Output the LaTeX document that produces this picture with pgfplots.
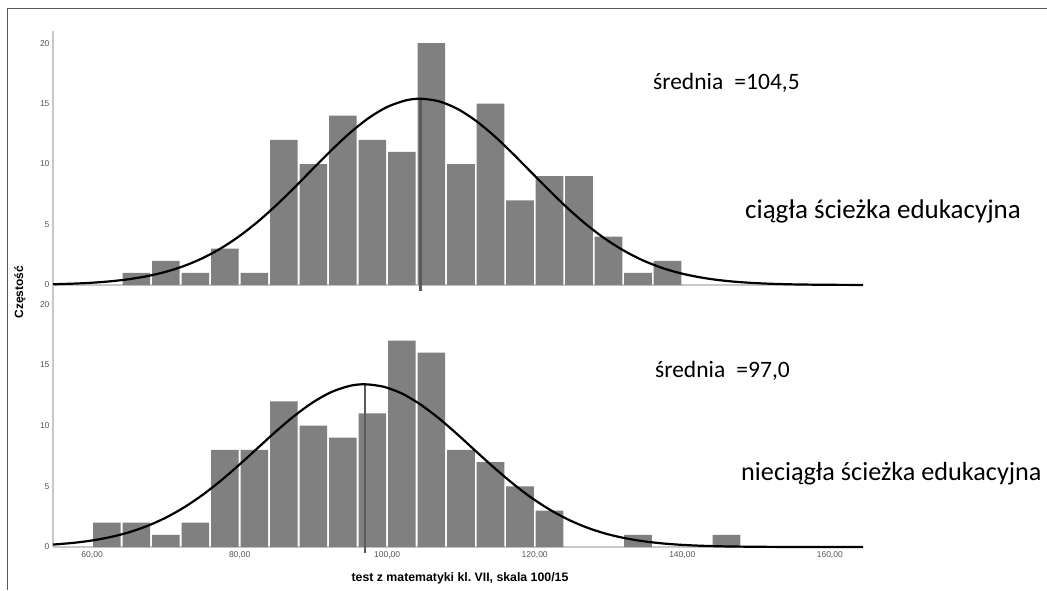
\documentclass[border=0pt]{standalone}
\usepackage{pgfplots}
\pgfplotsset{compat=1.18}
\usepackage{fontspec}
\setmainfont{Liberation Sans}
\newfontfamily\calibri{Carlito}

\definecolor{barfill}{HTML}{808080}
\definecolor{axisgray}{HTML}{C8C8C8}
\definecolor{ticktext}{HTML}{555555}
\definecolor{meanline}{HTML}{5A5A5A}

\pgfplotsset{
  hist/.style={
    scale only axis, width=810pt, height=254pt,
    xmin=54.7, xmax=164.5, ymin=0, ymax=21,
    axis x line=bottom, axis y line=left,
    axis line style={axisgray, line width=1.3pt, -},
    ytick={0,5,10,15,20},
    major tick length=0pt,
    /pgf/number format/assume math mode=true,
    tick label style={font=\fontsize{8.5}{10}\selectfont, text=ticktext},
    clip=false,
  },
  bars/.style={ybar, bar width=27.6pt, fill=barfill, draw=none},
  curve/.style={black, line width=2.2pt, smooth},
  mean/.style={meanline, line width=2.6pt},
}

\begin{document}
\begin{tikzpicture}
\useasboundingbox (0,0) rectangle (1047pt,-590pt);
\clip (0,0) rectangle (1047pt,-590pt);
\draw[gray!70!black, line width=1pt] (7pt,-590pt) -- (7pt,-8pt) -- (1047pt,-8pt);

% ---------- top panel ----------
\begin{axis}[hist, at={(53pt,-285pt)}, anchor=south west, xtick=\empty]
\addplot[bars] coordinates {
(66,1) (70,2) (74,1) (78,3) (82,1) (86,12) (90,10) (94,14) (98,12) (102,11)
(106,20) (110,10) (114,15) (118,7) (122,9) (126,9) (130,4) (134,1) (138,2)};
\addplot[mean] coordinates {(104.5,-0.5) (104.5,15.4)};
\addplot[curve] coordinates {
(54.7,0.06) (57.5,0.114) (60,0.189) (62.5,0.306) (65,0.481) (67.5,0.735) (70,1.093)
(72.5,1.582) (75,2.227) (77.5,3.048) (80,4.057) (82.5,5.253) (85,6.616) (87.5,8.102)
(90,9.653) (92.5,11.18) (95,12.60) (97.5,13.81) (100,14.72) (102.5,15.26) (104.5,15.4)
(107,15.19) (109.5,14.57) (112,13.59) (114.5,12.33) (117,10.88) (119.5,9.34) (122,7.80)
(124.5,6.33) (127,5.00) (129.5,3.84) (132,2.87) (134.5,2.08) (137,1.47) (139.5,1.01)
(142,0.68) (144.5,0.44) (147,0.278) (149.5,0.171) (152,0.102) (154.5,0.059) (157,0.034)
(160,0.016) (164.5,0.005)};
\draw[axisgray, line width=1.3pt] (axis cs:54.7,0) -- (axis cs:54.7,-0.6);
\end{axis}

% ---------- bottom panel ----------
\begin{axis}[hist, at={(53pt,-547pt)}, anchor=south west, height=255pt,
  xtick={60,80,100,120,140,160},
  xticklabels={{60,00},{80,00},{100,00},{120,00},{140,00},{160,00}},
  xticklabel style={yshift=-1pt}]
\addplot[bars] coordinates {
(62,2) (66,2) (70,1) (74,2) (78,8) (82,8) (86,12) (90,10) (94,9) (98,11)
(102,17) (106,16) (110,8) (114,7) (118,5) (122,3) (134,1) (146,1)};
\addplot[mean] coordinates {(97,-0.5) (97,13.4)};
\addplot[curve] coordinates {
(54.7,0.2) (57.5,0.344) (60,0.539) (62.5,0.820) (65,1.211) (67.5,1.738) (70,2.420)
(72.5,3.275) (75,4.303) (77.5,5.489) (80,6.80) (82.5,8.18) (85,9.56) (87.5,10.84)
(90,11.94) (92.5,12.78) (95,13.28) (97,13.4) (99.5,13.20) (102,12.64) (104.5,11.74)
(107,10.60) (109.5,9.29) (112,7.90) (114.5,6.53) (117,5.24) (119.5,4.08) (122,3.09)
(124.5,2.27) (127,1.62) (129.5,1.12) (132,0.756) (134.5,0.494) (137,0.313) (139.5,0.193)
(142,0.116) (144.5,0.067) (147,0.038) (152,0.011) (157,0.003) (164.5,0.0005)};
\end{axis}

% ---------- labels ----------
\node[rotate=90, font=\bfseries\fontsize{12}{14}\selectfont] at (20pt,-292pt) {Częstość};
\node[font=\bfseries\fontsize{12.3}{14}\selectfont] at (460pt,-578pt) {test z matematyki kl.\ VII, skala 100/15};

\node[anchor=west, inner sep=0pt, font=\calibri\fontsize{23.5}{27}\selectfont] at (653pt,-83pt) {średnia\hspace{0.25em} =104,5};
\node[anchor=west, inner sep=0pt, font=\calibri\fontsize{27}{31}\selectfont] at (745pt,-211pt) {ciągła ścieżka edukacyjna};
\node[anchor=west, inner sep=0pt, font=\calibri\fontsize{23.5}{27}\selectfont] at (655pt,-371pt) {średnia\hspace{0.25em} =97,0};
\node[anchor=west, inner sep=0pt, font=\calibri\fontsize{26.2}{30}\selectfont] at (741pt,-474pt) {nieciągła ścieżka edukacyjna};
\end{tikzpicture}
\end{document}
